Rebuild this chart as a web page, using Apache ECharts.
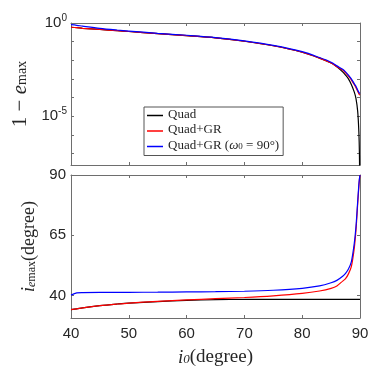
<!DOCTYPE html>
<html>
<head>
<meta charset="utf-8">
<script src="https://cdn.jsdelivr.net/npm/echarts@6/dist/echarts.min.js"></script>
<style>
  html, body { margin: 0; padding: 0; background: #fff; }
  #main { width: 389px; height: 376px; }
</style>
</head>
<body>
<div id="main"></div>
<script>
// inclination grid (degree)
var i0 = [40, 41, 42, 45, 48, 50, 55, 60, 65, 70, 75, 80, 83, 85, 86, 87, 87.5, 88, 88.5, 89, 89.3, 89.6, 89.8, 89.9, 90];

// 1 - e_max
var quadTop  = [0.59, 0.56, 0.52, 0.45, 0.39, 0.35, 0.27, 0.21, 0.16, 0.105, 0.060, 0.027, 0.013, 0.0071, 0.0045, 0.0024, 1.6e-3, 1.0e-3, 5.0e-4, 2.0e-4, 9e-5, 1.8e-5, 1.5e-6, 1e-7, 1e-10];
var grTop    = [0.59, 0.56, 0.52, 0.45, 0.39, 0.35, 0.27, 0.21, 0.16, 0.105, 0.060, 0.027, 0.013, 0.0071, 0.0045, 0.003, 2.1e-3, 1.4e-3, 8.9e-4, 5.0e-4, 3.4e-4, 2.2e-4, 1.6e-4, 1.45e-4, 1.35e-4];
var omegaTop = [0.81, 0.75, 0.68, 0.52, 0.42, 0.37, 0.28, 0.22, 0.166, 0.11, 0.063, 0.029, 0.014, 0.0079, 0.005, 0.0033, 2.4e-3, 1.6e-3, 1.0e-3, 5.6e-4, 4.0e-4, 2.5e-4, 1.9e-4, 1.75e-4, 1.65e-4];

// i_emax (degree)
var quadBot  = [34.2, 34.5, 34.9, 35.8, 36.5, 36.9, 37.5, 38.0, 38.3, 38.4, 38.4, 38.4, 38.4, 38.4, 38.4, 38.4, 38.4, 38.4, 38.4, 38.4, 38.4, 38.4, 38.4, 38.4, 38.4];
var grBot    = [34.2, 34.5, 34.9, 35.8, 36.5, 36.9, 37.6, 38.2, 38.7, 39.2, 39.9, 40.9, 41.9, 43.0, 44.0, 46.0, 47.0, 49.0, 52.0, 59.5, 67.0, 78.0, 85.0, 88.0, 90];
var omegaBot = [40.2, 41.1, 41.25, 41.3, 41.3, 41.35, 41.4, 41.5, 41.6, 41.8, 42.2, 43.0, 44.0, 45.3, 46.3, 48.0, 49.2, 51.0, 54.0, 61.5, 68.5, 79.0, 86.0, 88.5, 90];

var names = ['Quad', 'Quad+GR', 'Quad+GR (ω0 = 90°)'];
var colors = ['#000000', '#ff0000', '#0000ff'];

var logTicks = [1e-7, 1e-6, 1e-5, 1e-4, 1e-3, 1e-2, 1e-1, 1];
var logLabels = [1e-5, 1];
var iTicks = [40, 65, 90];

var axisCol = '#6e6e6e';
var textCol = '#262626';
var serif = 'Liberation Serif';
var sans = 'Liberation Sans';

function pairs(ys) {
  return i0.map(function (x, k) { return [x, ys[k]]; });
}

function boxAxis(extra) {
  var a = {
    axisLine: { show: true, onZero: false, lineStyle: { color: axisCol, width: 1 } },
    axisTick: { show: true, inside: true, length: 3, lineStyle: { color: axisCol } },
    axisLabel: { show: false },
    splitLine: { show: false }
  };
  for (var k in extra) a[k] = extra[k];
  return a;
}

function titleRich(size, subSize) {
  return {
    n: { fontFamily: serif, fontSize: size, color: textCol, padding: [0, 0, 4, 0] },
    i: { fontFamily: serif, fontSize: size, fontStyle: 'italic', color: textCol, padding: [0, 0, 4, 0] },
    sub: { fontFamily: serif, fontSize: subSize, fontStyle: 'italic', color: textCol },
    subr: { fontFamily: serif, fontSize: subSize, color: textCol }
  };
}

var myChart = echarts.init(document.getElementById('main'));
myChart.setOption({
  animation: false,
  backgroundColor: '#fff',
  grid: [
    { left: 71, right: 29, top: 23, height: 142, outerBoundsMode: 'none' },
    { left: 71, right: 29, top: 175, height: 143, outerBoundsMode: 'none' }
  ],
  legend: {
    orient: 'vertical',
    left: 144,
    top: 107,
    padding: [1, 4, 2, 3],
    itemGap: 1,
    itemWidth: 16,
    itemHeight: 1.5,
    icon: 'rect',
    borderColor: '#555',
    borderWidth: 1,
    borderRadius: 0,
    backgroundColor: '#fff',
    data: names,
    formatter: function (name) {
      if (name === names[2]) return '{t|Quad+GR (}{w|ω}{s|0}{t| = 90°)}';
      return '{t|' + name + '}';
    },
    textStyle: {
      lineHeight: 14,
      rich: {
        t: { fontFamily: serif, fontSize: 13, color: textCol, padding: [0, 0, 2, 0] },
        w: { fontFamily: serif, fontSize: 13, fontStyle: 'italic', color: textCol, padding: [0, 0, 2, 0] },
        s: { fontFamily: serif, fontSize: 9, color: textCol }
      }
    }
  },
  xAxis: [
    boxAxis({ type: 'value', gridIndex: 0, position: 'bottom', min: 40, max: 90, interval: 10 }),
    boxAxis({ type: 'value', gridIndex: 0, position: 'top', min: 40, max: 90, interval: 10 }),
    boxAxis({
      type: 'value', gridIndex: 1, position: 'bottom', min: 40, max: 90, interval: 10,
      axisLabel: { show: true, margin: 8, fontFamily: sans, fontSize: 15, color: textCol },
      name: '{i|i}{sub|0}{n|(degree)}',
      nameLocation: 'middle',
      nameGap: 30,
      nameTextStyle: { rich: titleRich(19, 13) }
    }),
    boxAxis({ type: 'value', gridIndex: 1, position: 'top', min: 40, max: 90, interval: 10 })
  ],
  yAxis: [
    boxAxis({
      type: 'log', gridIndex: 0, position: 'left', logBase: 10, min: 2.4e-8, max: 1,
      axisTick: { show: true, inside: true, length: 3, lineStyle: { color: axisCol }, customValues: logTicks },
      axisLabel: {
        show: true, margin: 4, customValues: logLabels,
        formatter: function (v) {
          var e = Math.round(Math.log10(v));
          return '{b|10}{s|' + e + '}';
        },
        rich: {
          b: { fontFamily: sans, fontSize: 15, color: textCol },
          s: { fontFamily: sans, fontSize: 10, color: textCol, padding: [0, 0, 9, 0] }
        }
      },
      name: '{n|1 − }{i|e}{subr|max}',
      nameLocation: 'middle',
      nameGap: 31,
      nameTextStyle: { rich: titleRich(21, 14) }
    }),
    boxAxis({
      type: 'log', gridIndex: 0, position: 'right', logBase: 10, min: 2.4e-8, max: 1,
      axisTick: { show: true, inside: true, length: 3, lineStyle: { color: axisCol }, customValues: logTicks }
    }),
    boxAxis({
      type: 'value', gridIndex: 1, position: 'left', min: 30.7, max: 90,
      axisTick: { show: true, inside: true, length: 3, lineStyle: { color: axisCol }, customValues: iTicks },
      axisLabel: { show: true, margin: 5, customValues: iTicks, fontFamily: sans, fontSize: 15, color: textCol },
      name: '{i|i}{sub|e}{subr|max}{n|(degree)}',
      nameLocation: 'middle',
      nameGap: 20,
      nameTextStyle: { rich: titleRich(18, 12) }
    }),
    boxAxis({
      type: 'value', gridIndex: 1, position: 'right', min: 30.7, max: 90,
      axisTick: { show: true, inside: true, length: 3, lineStyle: { color: axisCol }, customValues: iTicks }
    })
  ],
  series: [
    { name: names[0], data: pairs(quadTop), xAxisIndex: 0, yAxisIndex: 0, color: colors[0] },
    { name: names[1], data: pairs(grTop), xAxisIndex: 0, yAxisIndex: 0, color: colors[1] },
    { name: names[2], data: pairs(omegaTop), xAxisIndex: 0, yAxisIndex: 0, color: colors[2] },
    { name: names[0], data: pairs(quadBot), xAxisIndex: 2, yAxisIndex: 2, color: colors[0] },
    { name: names[1], data: pairs(grBot), xAxisIndex: 2, yAxisIndex: 2, color: colors[1] },
    { name: names[2], data: pairs(omegaBot), xAxisIndex: 2, yAxisIndex: 2, color: colors[2] }
  ].map(function (s) {
    s.type = 'line';
    s.showSymbol = false;
    s.symbol = 'none';
    s.smooth = 0.3;
    s.clip = true;
    s.lineStyle = { width: 1.2, color: s.color };
    return s;
  })
});
</script>
</body>
</html>
